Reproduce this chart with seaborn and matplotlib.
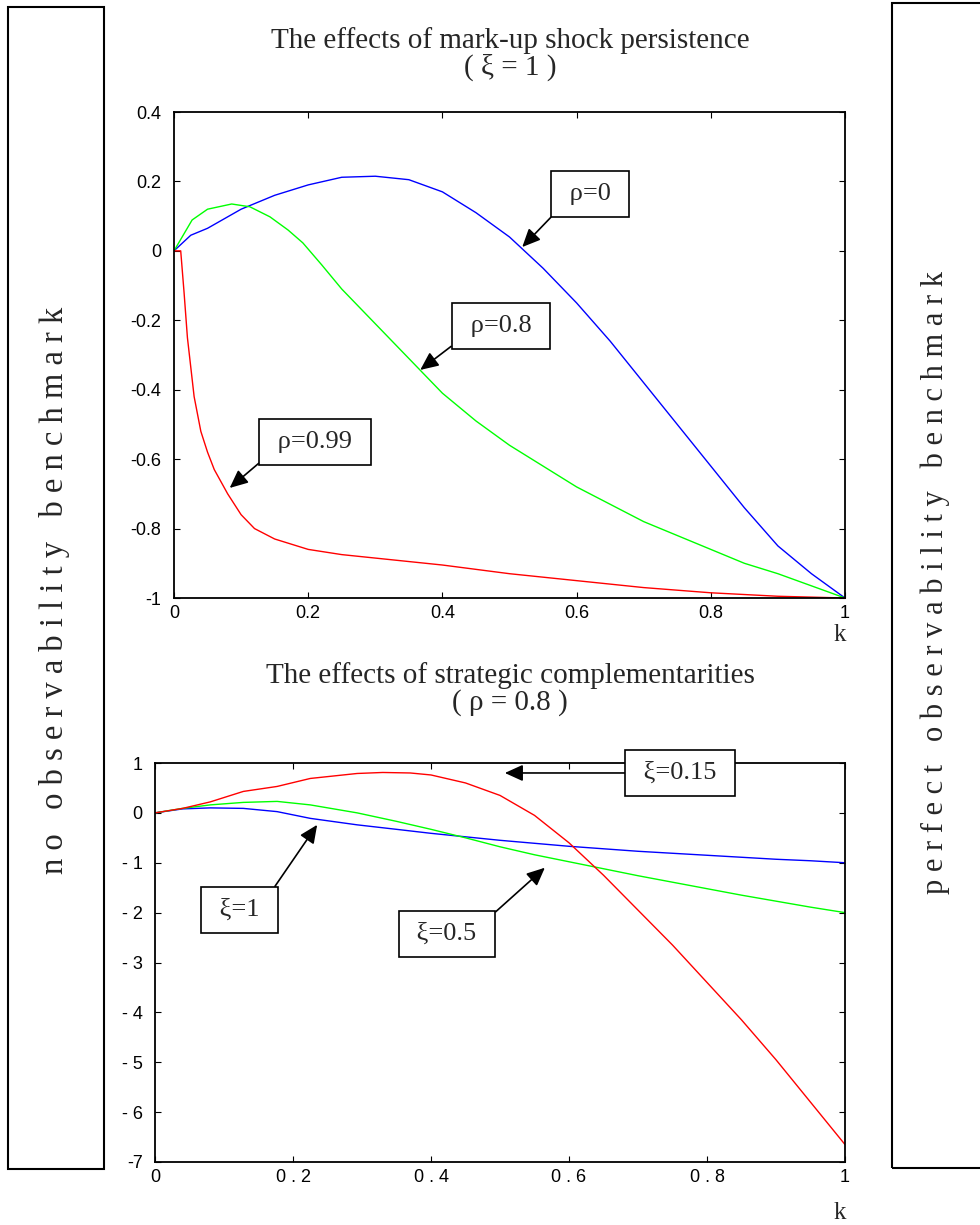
import numpy as np
import pandas as pd
import matplotlib
matplotlib.use("Agg")
import matplotlib.pyplot as plt
import seaborn as sns
from matplotlib.patches import Rectangle

# ---------------- data ----------------
# Top panel: effects of mark-up shock persistence (xi = 1)
top_blue_k = [0, 0.025, 0.05, 0.1, 0.15, 0.2, 0.25, 0.3, 0.35, 0.4, 0.45, 0.5, 0.55, 0.6,
              0.65, 0.7, 0.75, 0.8, 0.85, 0.9, 0.95, 1.0]
top_blue_v = [0, 0.045, 0.065, 0.12, 0.16, 0.19, 0.212, 0.215, 0.205, 0.17, 0.11, 0.04, -0.05,
              -0.15, -0.26, -0.38, -0.5, -0.62, -0.74, -0.85, -0.93, -1.0]
top_green_k = [0, 0.027, 0.05, 0.086, 0.113, 0.143, 0.17, 0.192, 0.22, 0.25, 0.3, 0.35, 0.4,
               0.45, 0.5, 0.55, 0.6, 0.65, 0.7, 0.75, 0.8, 0.85, 0.9, 0.95, 1.0]
top_green_v = [0, 0.089, 0.12, 0.135, 0.127, 0.098, 0.06, 0.023, -0.04, -0.11, -0.21, -0.31,
               -0.41, -0.49, -0.56, -0.62, -0.68, -0.73, -0.78, -0.82, -0.86, -0.9, -0.93,
               -0.965, -1.0]
top_red_k = [0, 0.01, 0.015, 0.02, 0.03, 0.04, 0.05, 0.06, 0.08, 0.1, 0.12, 0.15, 0.2, 0.25,
             0.3, 0.4, 0.5, 0.6, 0.7, 0.8, 0.9, 1.0]
top_red_v = [0, 0, -0.12, -0.25, -0.42, -0.52, -0.58, -0.63, -0.7, -0.76, -0.8, -0.83, -0.86,
             -0.875, -0.885, -0.905, -0.93, -0.95, -0.97, -0.985, -0.995, -1.0]

# Bottom panel: effects of strategic complementarities (rho = 0.8)
bot_blue_k = [0, 0.04, 0.08, 0.128, 0.177, 0.225, 0.293, 0.35, 0.4, 0.45, 0.5, 0.55, 0.6,
              0.65, 0.7, 0.75, 0.8, 0.85, 0.9, 0.95, 1.0]
bot_blue_v = [0, 0.08, 0.1, 0.09, 0.025, -0.11, -0.24, -0.33, -0.41, -0.48, -0.55, -0.61,
              -0.67, -0.72, -0.77, -0.81, -0.85, -0.89, -0.93, -0.96, -1.0]
bot_green_k = [0, 0.04, 0.08, 0.128, 0.177, 0.225, 0.293, 0.35, 0.4, 0.45, 0.5, 0.55, 0.6,
               0.65, 0.7, 0.75, 0.8, 0.85, 0.9, 0.95, 1.0]
bot_green_v = [0, 0.09, 0.16, 0.21, 0.23, 0.16, 0.0, -0.17, -0.33, -0.5, -0.68, -0.84, -0.98,
               -1.12, -1.26, -1.39, -1.52, -1.65, -1.77, -1.89, -2.0]
bot_red_k = [0, 0.04, 0.08, 0.128, 0.177, 0.225, 0.293, 0.33, 0.37, 0.4, 0.45, 0.5, 0.55,
             0.6, 0.65, 0.7, 0.75, 0.8, 0.85, 0.9, 0.95, 1.0]
bot_red_v = [0, 0.09, 0.22, 0.43, 0.53, 0.69, 0.79, 0.81, 0.8, 0.76, 0.6, 0.35, -0.05, -0.6,
             -1.25, -1.95, -2.65, -3.4, -4.15, -4.95, -5.8, -6.65]

top_xticks = [0, 0.2, 0.4, 0.6, 0.8, 1]
top_xticklabels = ["0", "0.2", "0.4", "0.6", "0.8", "1"]
top_yticks = [-1, -0.8, -0.6, -0.4, -0.2, 0, 0.2, 0.4]
top_yticklabels = ["-1", "-0.8", "-0.6", "-0.4", "-0.2", "0", "0.2", "0.4"]
bot_xticks = [0, 0.2, 0.4, 0.6, 0.8, 1]
bot_xticklabels = ["0", "0 . 2", "0 . 4", "0 . 6", "0 . 8", "1"]
bot_yticks = [-7, -6, -5, -4, -3, -2, -1, 0, 1]
bot_yticklabels = ["-7", "- 6", "- 5", "- 4", "- 3", "- 2", "- 1", "0", "1"]

top_title = "The effects of mark-up shock persistence\n( \u03be = 1 )"
bot_title = "The effects of strategic complementarities\n( \u03c1 = 0.8 )"
left_label = "no observability benchmark"
right_label = "perfect observability benchmark"

# ---------------- style ----------------
sns.set_theme(style="ticks")
plt.rcParams["font.family"] = ["Liberation Sans", "DejaVu Sans"]
plt.rcParams.update({
    "xtick.direction": "in", "ytick.direction": "in",
    "xtick.top": True, "ytick.right": True,
    "xtick.major.size": 4, "ytick.major.size": 4,
    "xtick.major.width": 0.8, "ytick.major.width": 0.8,
    "axes.linewidth": 1.3, "axes.edgecolor": "black",
    "xtick.color": "black", "ytick.color": "black",
})
SERIF = ["Liberation Serif", "DejaVu Serif"]

fig = plt.figure(figsize=(9.8, 12.25), dpi=100)
ax1 = fig.add_axes([174 / 980, 1 - 598 / 1225, 671 / 980, 486 / 1225])
ax2 = fig.add_axes([155 / 980, 1 - 1162 / 1225, 690 / 980, 399 / 1225])


def draw(ax, series):
    for k, v, c in series:
        df = pd.DataFrame({"k": k, "v": v})
        sns.lineplot(data=df, x="k", y="v", color=c, lw=1.0, ax=ax, sort=False,
                     estimator=None)


draw(ax1, [(top_blue_k, top_blue_v, "#0000ff"), (top_green_k, top_green_v, "#00ff00"),
           (top_red_k, top_red_v, "#ff0000")])
draw(ax2, [(bot_blue_k, bot_blue_v, "#0000ff"), (bot_green_k, bot_green_v, "#00ff00"),
           (bot_red_k, bot_red_v, "#ff0000")])

for ax, xt, xl, yt, yl, ylim in [
        (ax1, top_xticks, top_xticklabels, top_yticks, top_yticklabels, (-1, 0.4)),
        (ax2, bot_xticks, bot_xticklabels, bot_yticks, bot_yticklabels, (-7, 1))]:
    ax.set_xlim(0, 1)
    ax.set_ylim(*ylim)
    ax.set_xticks(xt)
    ax.set_xticklabels(xl, fontsize=13)
    ax.set_yticks(yt)
    ax.set_yticklabels(yl, fontsize=13)
    ax.tick_params(axis="y", which="both", labelright=False, pad=9)
    ax.tick_params(axis="x", which="both", labeltop=False, pad=5)
    ax.set_xlabel("")
    ax.set_ylabel("")
    for s in ax.spines.values():
        s.set_visible(True)
        s.set_color("black")

ax1.text(0.992, -0.054, "k", transform=ax1.transAxes, ha="center", va="top",
         fontsize=18, family=SERIF)
ax2.text(0.993, -0.100, "k", transform=ax2.transAxes, ha="center", va="top",
         fontsize=18, family=SERIF)

# titles
fig.text(510 / 980, 1 - 54 / 1225, top_title, ha="center", va="center", fontsize=21,
         family=SERIF, linespacing=1.0)
fig.text(510 / 980, 1 - 689 / 1225, bot_title, ha="center", va="center", fontsize=21,
         family=SERIF, linespacing=1.0)


# annotations
def note(ax, txt, tip, box, relpos):
    ax.annotate(" " + txt + " ", xy=tip, xytext=box, xycoords="data", textcoords="data",
                ha="center", va="center", fontsize=19, family=SERIF,
                bbox=dict(boxstyle="square,pad=0.45", fc="white", ec="black", lw=1.2),
                arrowprops=dict(arrowstyle="-|>,head_length=0.55,head_width=0.25",
                                mutation_scale=20, color="black", lw=1.2,
                                shrinkA=0, shrinkB=0, relpos=relpos))


note(ax1, "\u03c1=0", (0.519, 0.011), (0.620, 0.164), (0, 0))
note(ax1, "\u03c1=0.8", (0.367, -0.343), (0.487, -0.216), (0, 0))
note(ax1, "\u03c1=0.99", (0.083, -0.683), (0.210, -0.550), (0, 0))
note(ax2, "\u03be=0.15", (0.507, 0.80), (0.761, 0.80), (0, 0.5))
note(ax2, "\u03be=1", (0.235, -0.24), (0.123, -1.945), (1, 1))
note(ax2, "\u03be=0.5", (0.565, -1.10), (0.423, -2.43), (1, 1))

# side boxes
fig.add_artist(Rectangle((8 / 980, 1 - 1169 / 1225), 96 / 980, 1162 / 1225,
                         transform=fig.transFigure, fill=False, ec="black", lw=1.5))
fig.add_artist(Rectangle((892 / 980, 1 - 1168 / 1225), 120 / 980, 1165 / 1225,
                         transform=fig.transFigure, fill=False, ec="black", lw=1.5,
                         clip_on=False))


def spaced(s):
    return "   ".join(" ".join(w) for w in s.split())


fig.text(55 / 980, 1 - 590 / 1225, spaced(left_label), rotation=90, ha="center",
         va="center", fontsize=23.5, family=SERIF)
fig.text(935 / 980, 1 - 583 / 1225, spaced(right_label), rotation=90, ha="center",
         va="center", fontsize=22, family=SERIF)

fig.savefig("out.png", dpi=100, facecolor="white")
